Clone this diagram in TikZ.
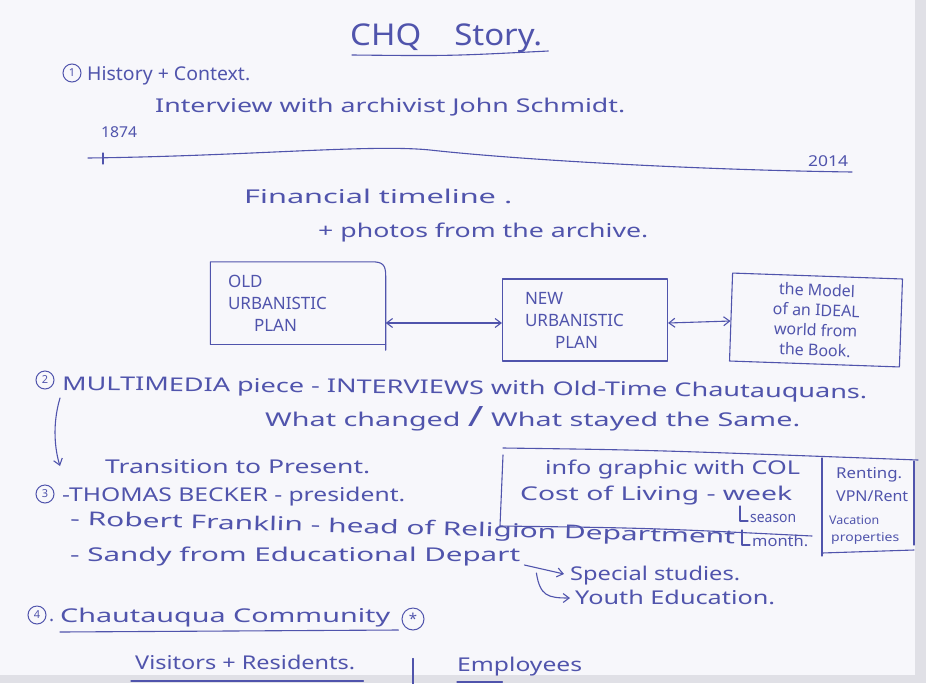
\documentclass[tikz,border=0pt]{standalone}
\usepackage{fontspec}
\usepackage{graphicx}
\setmainfont{Noto Sans}
\usetikzlibrary{arrows.meta}
\definecolor{ink}{RGB}{80,84,172}
\definecolor{paper}{RGB}{247,247,251}
\definecolor{edgegray}{RGB}{224,224,230}
\newcommand\fw[2]{\resizebox{#1pt}{\height}{#2}}
\begin{document}
\begin{tikzpicture}[x=1pt,y=-1pt,
  hw/.style={text=ink,inner sep=0pt,anchor=base west,font=\fontsize{19}{21}\selectfont},
  hwsm/.style={hw,font=\fontsize{15}{16}\selectfont},
  hwxs/.style={hw,font=\fontsize{12}{13}\selectfont},
  boxtext/.style={text=ink,inner sep=0pt,anchor=center,font=\fontsize{17}{22}\selectfont},
  pen/.style={draw=ink,line width=1.1pt,line cap=round,line join=round},
  tipped/.style={pen,-{Straight Barb[length=6pt,width=9pt]}},
  both/.style={pen,{Straight Barb[length=6pt,width=9pt]}-{Straight Barb[length=6pt,width=9pt]}},
  num/.style={circle,draw=ink,line width=1pt,inner sep=0pt,minimum size=18pt,text=ink,font=\fontsize{11}{12}\selectfont},
]
% paper
\fill[paper] (0,0) rectangle (926,683);
\fill[edgegray] (915,0) rectangle (926,683);
\fill[edgegray] (0,675) rectangle (926,683);
\useasboundingbox (0,0) rectangle (926,683);

% title
\node[hw,font=\fontsize{30}{32}\selectfont] (title) at (350,45) {\fw{192}{CHQ\quad Story.}};
\draw[pen] ([xshift=2pt,yshift=-10pt]title.base west) .. controls (450,56) .. ([xshift=6pt,yshift=-6pt]title.base east);

% section 1
\node[num] (n1) at (72,73) {1};
\node[hw] (hist) at (87,80) {\fw{163}{History + Context.}};
\node[hw] (intv) at (155,112) {\fw{470}{Interview with archivist John Schmidt.}};
\node[hwsm] (y1874) at (101,137) {\fw{36}{1874}};
\node[hwsm] (y2014) at (808,166) {\fw{40}{2014}};
\coordinate (tlstart) at (88,158);
\coordinate (tlend) at (852,172);
\draw[pen] (tlstart) .. controls (250,156) and (370,144) .. (430,150) .. controls (520,160) and (700,170) .. (tlend);
\draw[pen] ([xshift=2pt,yshift=-16pt]y1874.base west) -- ([xshift=2pt,yshift=-27pt]y1874.base west);
\node[hw] (fin) at (244,203) {\fw{268}{Financial timeline .}};
\node[hw] (photo) at (318,237) {\fw{330}{+ photos from the archive.}};

% urbanistic plans
\node[boxtext,minimum width=175pt,minimum height=82pt,align=left,text width=140pt] (old) at (298,303)
  {OLD\\URBANISTIC\\\hspace*{26pt}PLAN};
\draw[pen] (old.south west) -- (old.north west) -- ([xshift=-14pt]old.north east)
  .. controls ([xshift=-3pt]old.north east) and ([yshift=-3pt]old.north east) .. ([yshift=-14pt]old.north east)
  -- ([yshift=-6pt]old.south east);
\draw[pen] (old.south east) -- (old.south west);
\node[boxtext,pen,minimum width=165pt,minimum height=82pt,align=left,text width=120pt] (new) at (585,320)
  {NEW\\URBANISTIC\\\hspace*{30pt}PLAN};
\node[boxtext,pen,minimum width=170pt,minimum height=88pt,align=center,rotate=-2,font=\fontsize{16}{20}\selectfont] (ideal) at (816,320)
  {the Model\\of an IDEAL\\world from\\the Book.};
\draw[both] ([yshift=-20pt]old.east) -- ([yshift=-3pt]new.west);
\draw[both] ([yshift=-3pt]new.east) -- ([yshift=-4pt]ideal.west);

% section 2
\node[num] (n2) at (45,380) {2};
\node[hw,rotate=-0.6] (multi) at (62,390) {\fw{805}{MULTIMEDIA piece - INTERVIEWS with Old-Time Chautauquans.}};
\node[hw] (what) at (265,426) {\fw{535}{What changed {\fontsize{28}{30}\selectfont/} What stayed the Same.}};
\node[hw] (trans) at (105,473) {\fw{265}{Transition to Present.}};
\coordinate (a2s) at (60,398);
\coordinate (a2e) at (60,466);
\draw[tipped] (a2s) .. controls (52,425) and (55,450) .. (a2e);

% infographic box
\draw[pen] (503,448) .. controls (650,450) .. (918,460);
\draw[pen] (503,455) -- (500,526) .. controls (650,528) .. (812,536);
\draw[pen] (822,458) -- (822,556);
\draw[pen] (822,553) -- (914,550);
\draw[pen] (914,461) -- (914,545);
\node[hw] (info) at (545,474) {\fw{255}{info graphic with COL}};
\node[hw] (cost) at (520,500) {\fw{272}{Cost of Living - week}};
\node[hwsm] (season) at (750,522) {\fw{46}{season}};
\node[hwsm] (month) at (752,546) {\fw{56}{month.}};
\draw[pen] ([xshift=-10pt,yshift=16pt]season.base west) -- ([xshift=-10pt,yshift=1pt]season.base west) -- ([xshift=-2pt,yshift=1pt]season.base west);
\draw[pen] ([xshift=-10pt,yshift=16pt]month.base west) -- ([xshift=-10pt,yshift=1pt]month.base west) -- ([xshift=-2pt,yshift=1pt]month.base west);
\node[hwsm] (rent) at (836,478) {\fw{66}{Renting.}};
\node[hwsm] (vpn) at (836,501) {\fw{72}{VPN/Rent}};
\node[hwxs] (vac) at (829,524) {\fw{50}{Vacation}};
\node[hwxs] (prop) at (831,541) {\fw{68}{properties}};

% section 3
\node[num] (n3) at (45,494) {3};
\node[hw] (thomas) at (62,501) {\fw{343}{-THOMAS BECKER - president.}};
\node[hw,rotate=-1.6] (robert) at (70,525) {\fw{665}{- Robert Franklin - head of Religion Department}};
\node[hw] (sandy) at (70,561) {\fw{450}{- Sandy from Educational Depart}};
\node[hw] (spec) at (570,580) {\fw{170}{Special studies.}};
\node[hw] (youth) at (575,604) {\fw{200}{Youth Education.}};
\draw[tipped] ([xshift=4pt,yshift=-4pt]sandy.base east) -- ([xshift=-6pt,yshift=6pt]spec.base west);
\draw[tipped] ([xshift=16pt,yshift=-12pt]sandy.base east) .. controls (540,596) and (548,598) .. ([xshift=-5pt,yshift=6pt]youth.base west);

% section 4
\node[num] (n4) at (37,615) {4};
\node[hw] (dot4) at (49,621) {.};
\node[hw] (chq) at (60,622) {\fw{330}{Chautauqua Community}};
\draw[pen] ([yshift=-10pt]chq.base west) -- ([xshift=8pt,yshift=-8pt]chq.base east);
\node[num,minimum size=22pt,font=\fontsize{15}{15}\selectfont] (ast) at (413,619) {*};
\node[hw] (vis) at (135,669) {\fw{220}{Visitors + Residents.}};
\draw[pen] ([xshift=-4pt,yshift=-12pt]vis.base west) -- ([xshift=8pt,yshift=-12pt]vis.base east);
\draw[pen] ([yshift=-28pt]ast.south) -- ([yshift=-70pt]ast.south);
\node[hw] (emp) at (457,671) {\fw{125}{Employees}};
\draw[pen] ([yshift=-11pt]emp.base west) -- ([xshift=-80pt,yshift=-11pt]emp.base east);
\end{tikzpicture}
\end{document}
